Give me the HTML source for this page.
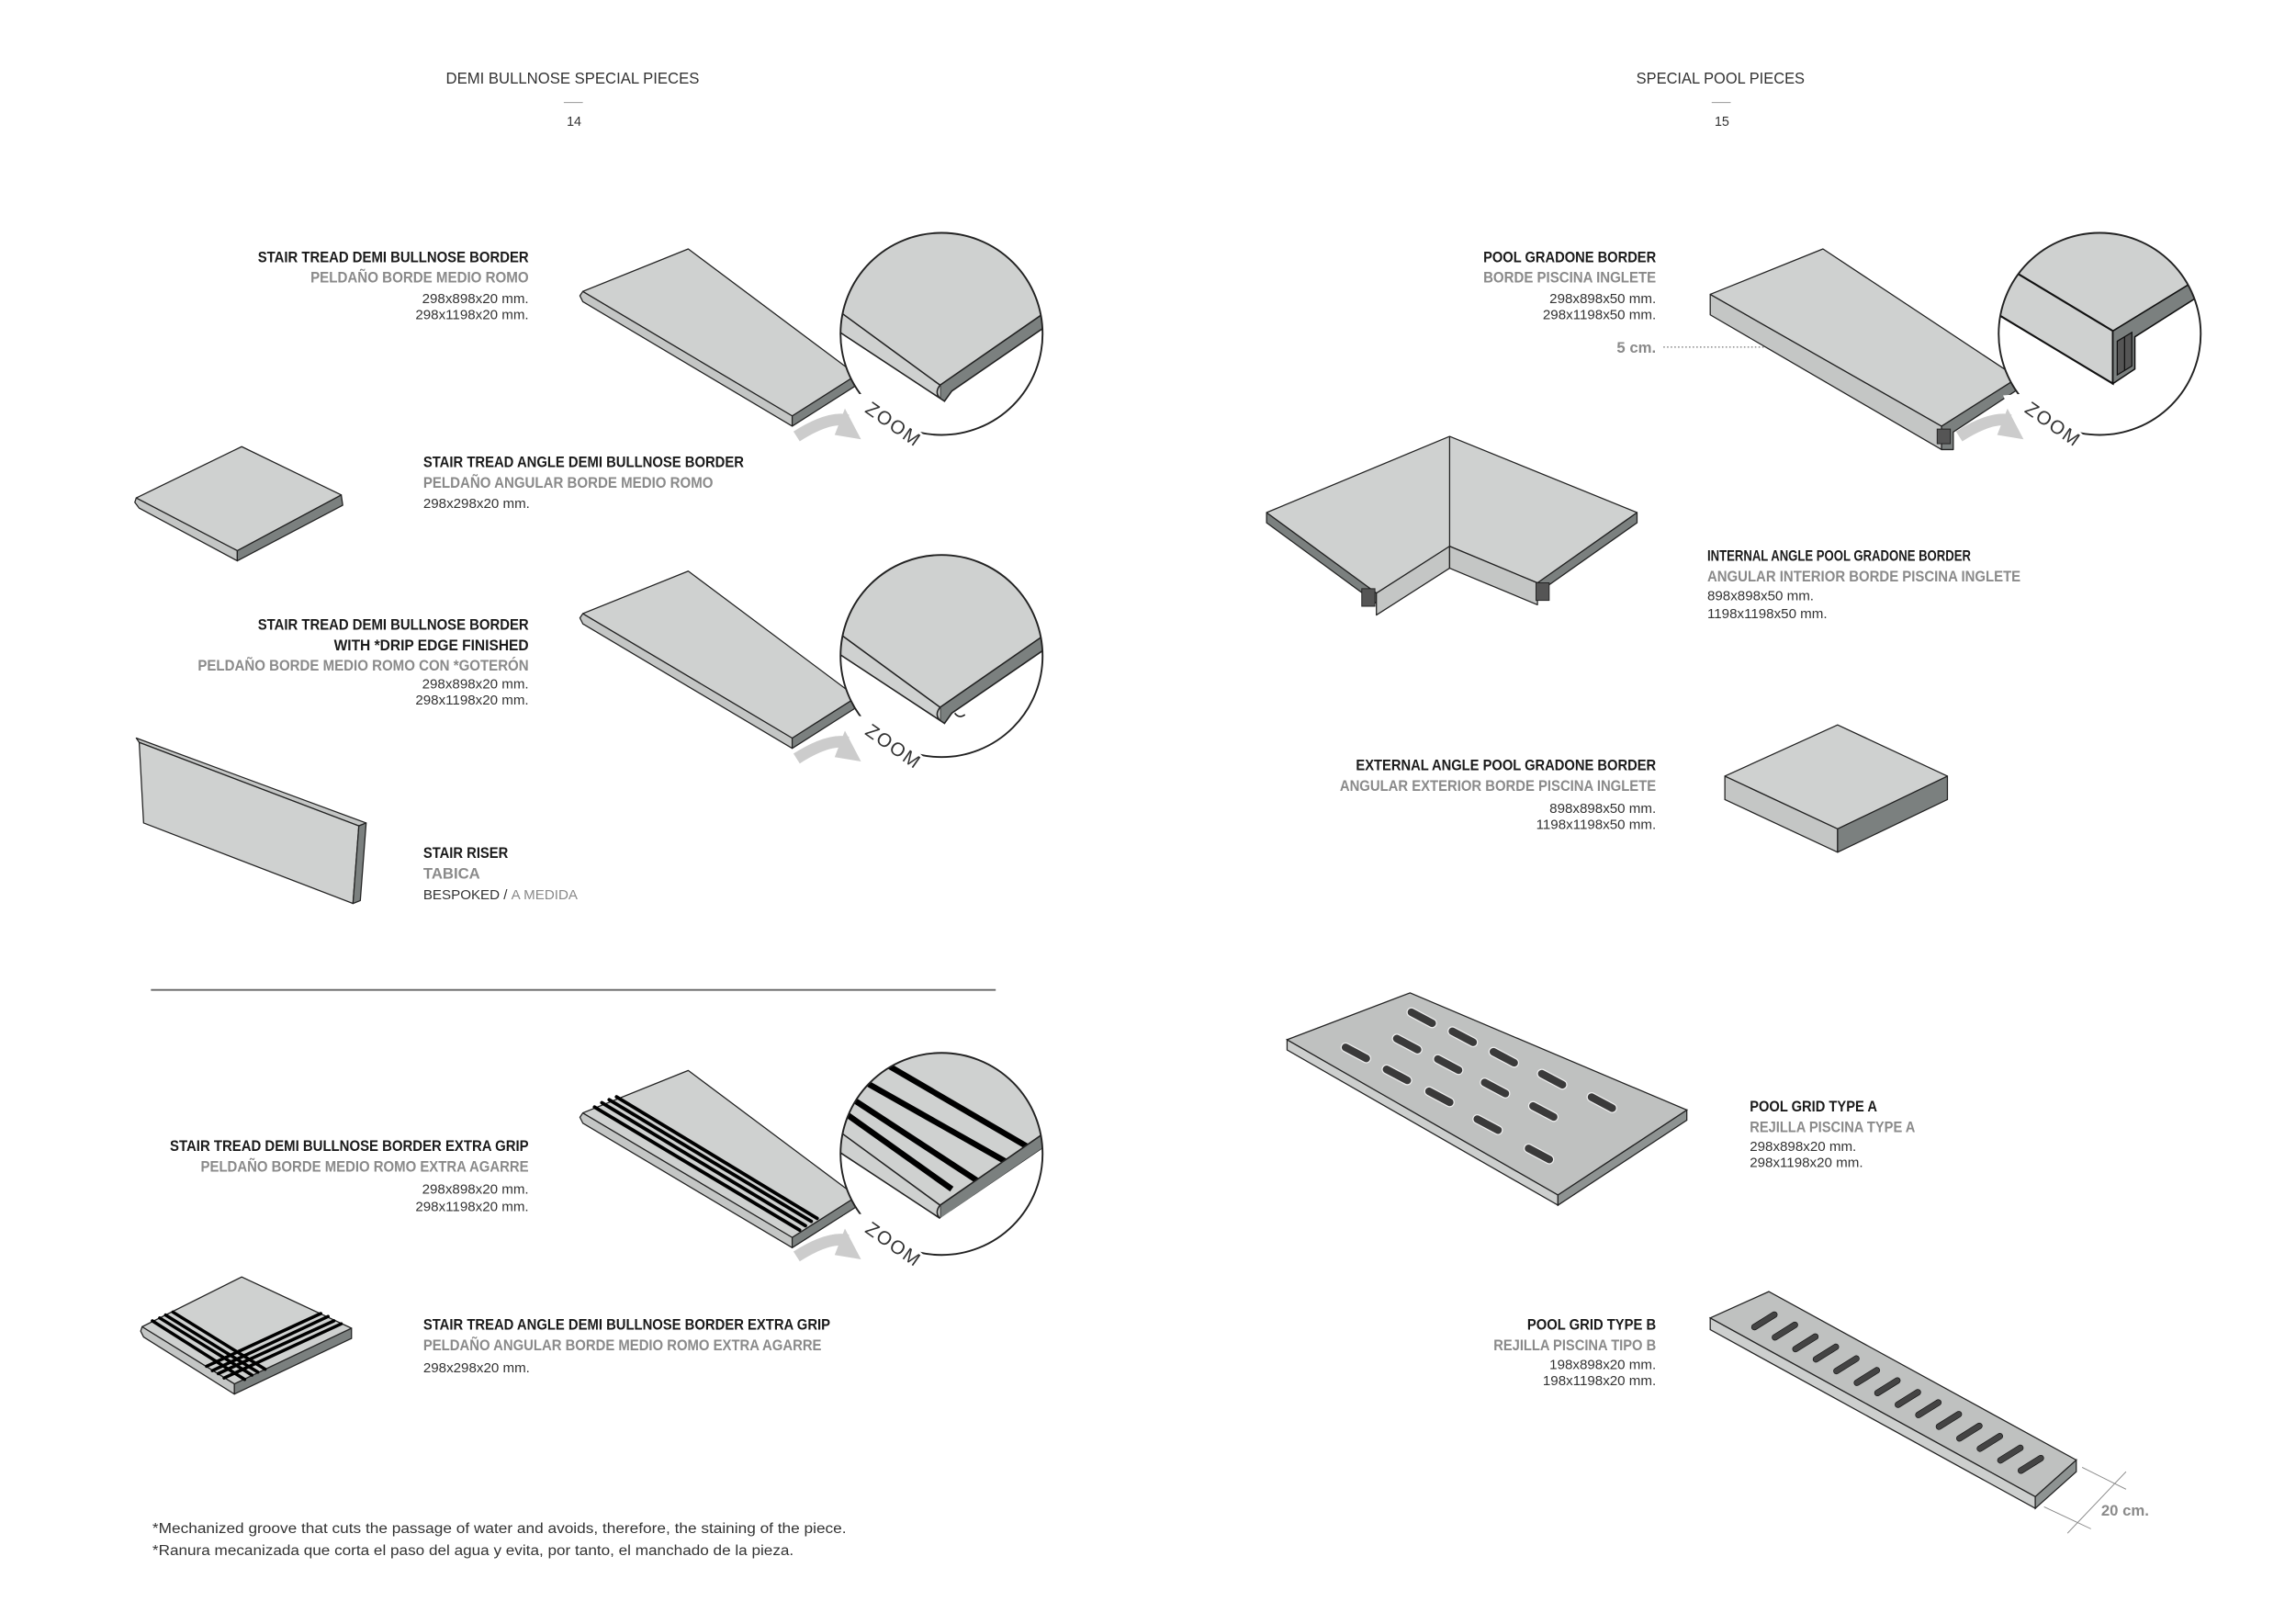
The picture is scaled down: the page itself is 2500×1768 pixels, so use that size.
<!DOCTYPE html>
<html><head><meta charset="utf-8"><style>
html,body{margin:0;padding:0;background:#fff}
svg{display:block}
text{font-family:"Liberation Sans Narrow","Liberation Sans",sans-serif}
.h{font-size:11px;fill:#333}
.b{font-size:10.5px;font-weight:bold;fill:#1a1a1a}
.g{font-size:10.5px;font-weight:bold;fill:#8a8a8a}
.d{font-size:9.5px;fill:#333}
.z{font-size:13px;fill:#333;letter-spacing:1px}
.f{font-size:10px;fill:#333}
.top{fill:#cfd1d0;stroke:#222;stroke-width:0.8;stroke-linejoin:round}
.lt{fill:#c4c6c5;stroke:#222;stroke-width:0.8;stroke-linejoin:round}
.dk{fill:#7b807f;stroke:#222;stroke-width:0.8;stroke-linejoin:round}
.gr{stroke:#000;stroke-width:2.4;stroke-linecap:round}
</style></head><body>
<svg width="2500" height="1768" viewBox="0 0 1568 1109" xmlns="http://www.w3.org/2000/svg">
<defs>
<clipPath id="c1"><circle cx="643" cy="228" r="69"/></clipPath>
<clipPath id="c2"><circle cx="643" cy="448" r="69"/></clipPath>
<clipPath id="c3"><circle cx="643" cy="788" r="69"/></clipPath>
<clipPath id="c4"><circle cx="1434" cy="228" r="69"/></clipPath>
</defs>

<text class="h" x="391" y="57" text-anchor="middle" textLength="173" lengthAdjust="spacingAndGlyphs">DEMI BULLNOSE SPECIAL PIECES</text>
<line x1="385" y1="70" x2="398" y2="70" stroke="#999" stroke-width="0.6"/>
<text class="h" x="392" y="86" text-anchor="middle" style="font-size:9px">14</text>
<text class="h" x="1175" y="57" text-anchor="middle" textLength="115" lengthAdjust="spacingAndGlyphs">SPECIAL POOL PIECES</text>
<line x1="1169" y1="70" x2="1182" y2="70" stroke="#999" stroke-width="0.6"/>
<text class="h" x="1176" y="86" text-anchor="middle" style="font-size:9px">15</text>

<text class="b" x="361" y="179" text-anchor="end" textLength="185" lengthAdjust="spacingAndGlyphs">STAIR TREAD DEMI BULLNOSE BORDER</text>
<text class="g" x="361" y="193" text-anchor="end" textLength="149" lengthAdjust="spacingAndGlyphs">PELDAÑO BORDE MEDIO ROMO</text>
<text class="d" x="361" y="207" text-anchor="end">298x898x20 mm.</text>
<text class="d" x="361" y="218" text-anchor="end">298x1198x20 mm.</text>

<text class="b" x="289" y="319" textLength="219" lengthAdjust="spacingAndGlyphs">STAIR TREAD ANGLE DEMI BULLNOSE BORDER</text>
<text class="g" x="289" y="333" textLength="198" lengthAdjust="spacingAndGlyphs">PELDAÑO ANGULAR BORDE MEDIO ROMO</text>
<text class="d" x="289" y="347">298x298x20 mm.</text>

<text class="b" x="361" y="430" text-anchor="end" textLength="185" lengthAdjust="spacingAndGlyphs">STAIR TREAD DEMI BULLNOSE BORDER</text>
<text class="b" x="361" y="444" text-anchor="end" textLength="133" lengthAdjust="spacingAndGlyphs">WITH *DRIP EDGE FINISHED</text>
<text class="g" x="361" y="458" text-anchor="end" textLength="226" lengthAdjust="spacingAndGlyphs">PELDAÑO BORDE MEDIO ROMO CON *GOTERÓN</text>
<text class="d" x="361" y="470" text-anchor="end">298x898x20 mm.</text>
<text class="d" x="361" y="481" text-anchor="end">298x1198x20 mm.</text>

<text class="b" x="289" y="586" textLength="58" lengthAdjust="spacingAndGlyphs">STAIR RISER</text>
<text class="g" x="289" y="600">TABICA</text>
<text class="d" x="289" y="614">BESPOKED / <tspan fill="#8a8a8a">A MEDIDA</tspan></text>

<line x1="103" y1="676" x2="680" y2="676" stroke="#666" stroke-width="1.2"/>

<text class="b" x="361" y="786" text-anchor="end" textLength="245" lengthAdjust="spacingAndGlyphs">STAIR TREAD DEMI BULLNOSE BORDER EXTRA GRIP</text>
<text class="g" x="361" y="800" text-anchor="end" textLength="224" lengthAdjust="spacingAndGlyphs">PELDAÑO BORDE MEDIO ROMO EXTRA AGARRE</text>
<text class="d" x="361" y="815" text-anchor="end">298x898x20 mm.</text>
<text class="d" x="361" y="827" text-anchor="end">298x1198x20 mm.</text>

<text class="b" x="289" y="908" textLength="278" lengthAdjust="spacingAndGlyphs">STAIR TREAD ANGLE DEMI BULLNOSE BORDER EXTRA GRIP</text>
<text class="g" x="289" y="922" textLength="272" lengthAdjust="spacingAndGlyphs">PELDAÑO ANGULAR BORDE MEDIO ROMO EXTRA AGARRE</text>
<text class="d" x="289" y="937">298x298x20 mm.</text>

<text class="f" x="104" y="1047" textLength="474" lengthAdjust="spacingAndGlyphs">*Mechanized groove that cuts the passage of water and avoids, therefore, the staining of the piece.</text>
<text class="f" x="104" y="1062" textLength="438" lengthAdjust="spacingAndGlyphs">*Ranura mecanizada que corta el paso del agua y evita, por tanto, el manchado de la pieza.</text>

<text class="b" x="1131" y="179" text-anchor="end" textLength="118" lengthAdjust="spacingAndGlyphs">POOL GRADONE BORDER</text>
<text class="g" x="1131" y="193" text-anchor="end" textLength="118" lengthAdjust="spacingAndGlyphs">BORDE PISCINA INGLETE</text>
<text class="d" x="1131" y="207" text-anchor="end">298x898x50 mm.</text>
<text class="d" x="1131" y="218" text-anchor="end">298x1198x50 mm.</text>
<text class="g" x="1131" y="241" text-anchor="end">5 cm.</text>
<line x1="1136" y1="237" x2="1210" y2="237" stroke="#777" stroke-width="0.8" stroke-dasharray="1,1.5"/>

<text class="b" x="1166" y="383" textLength="180" lengthAdjust="spacingAndGlyphs">INTERNAL ANGLE POOL GRADONE BORDER</text>
<text class="g" x="1166" y="397" textLength="214" lengthAdjust="spacingAndGlyphs">ANGULAR INTERIOR BORDE PISCINA INGLETE</text>
<text class="d" x="1166" y="410">898x898x50 mm.</text>
<text class="d" x="1166" y="422">1198x1198x50 mm.</text>

<text class="b" x="1131" y="526" text-anchor="end" textLength="205" lengthAdjust="spacingAndGlyphs">EXTERNAL ANGLE POOL GRADONE BORDER</text>
<text class="g" x="1131" y="540" text-anchor="end" textLength="216" lengthAdjust="spacingAndGlyphs">ANGULAR EXTERIOR BORDE PISCINA INGLETE</text>
<text class="d" x="1131" y="555" text-anchor="end">898x898x50 mm.</text>
<text class="d" x="1131" y="566" text-anchor="end">1198x1198x50 mm.</text>

<text class="b" x="1195" y="759" textLength="87" lengthAdjust="spacingAndGlyphs">POOL GRID TYPE A</text>
<text class="g" x="1195" y="773" textLength="113" lengthAdjust="spacingAndGlyphs">REJILLA PISCINA TYPE A</text>
<text class="d" x="1195" y="786">298x898x20 mm.</text>
<text class="d" x="1195" y="797">298x1198x20 mm.</text>

<text class="b" x="1131" y="908" text-anchor="end" textLength="88" lengthAdjust="spacingAndGlyphs">POOL GRID TYPE B</text>
<text class="g" x="1131" y="922" text-anchor="end" textLength="111" lengthAdjust="spacingAndGlyphs">REJILLA PISCINA TIPO B</text>
<text class="d" x="1131" y="935" text-anchor="end">198x898x20 mm.</text>
<text class="d" x="1131" y="946" text-anchor="end">198x1198x20 mm.</text>
<text class="g" x="1435" y="1035">20 cm.</text>

<polygon class="lt" points="398,199 541,284 541,291 398,206 396,202"/>
<polygon class="dk" points="541,284 585,256 585,263 541,291"/>
<polygon class="top" points="398,199 470,170 585,256 541,284"/>
<g transform="translate(0,220)">
<polygon class="lt" points="398,199 541,284 541,291 398,206 396,202"/>
<polygon class="dk" points="541,284 585,256 585,263 541,291"/>
<polygon class="top" points="398,199 470,170 585,256 541,284"/>
</g>
<g transform="translate(0,561)">
<polygon class="lt" points="398,199 541,284 541,291 398,206 396,202"/>
<polygon class="dk" points="541,284 585,256 585,263 541,291"/>
<polygon class="top" points="398,199 470,170 585,256 541,284"/>
<line class="gr" x1="406" y1="195" x2="546" y2="279"/>
<line class="gr" x1="411" y1="192" x2="550" y2="276"/>
<line class="gr" x1="416" y1="190" x2="554" y2="273"/>
<line class="gr" x1="421" y1="188" x2="558" y2="271"/>
</g>

<polygon class="lt" points="93,340 162,376 162,383 95,347 92,343"/>
<polygon class="dk" points="162,376 233,338 234,345 162,383"/>
<polygon class="top" points="93,340 165,305 233,338 162,376"/>

<polygon class="lt" points="97,906 160,945 160,952 98,913 96,909"/>
<polygon class="dk" points="160,945 240,907 240,914 160,952"/>
<polygon class="top" points="97,906 165,872 240,907 160,945"/>
<g class="gr" style="stroke-width:2.2">
<line x1="104" y1="902" x2="167" y2="942"/>
<line x1="109" y1="900" x2="172" y2="939"/>
<line x1="113" y1="898" x2="176" y2="937"/>
<line x1="118" y1="896" x2="181" y2="935"/>
<line x1="153" y1="941" x2="233" y2="904"/>
<line x1="149" y1="938" x2="228" y2="902"/>
<line x1="145" y1="936" x2="224" y2="899"/>
<line x1="141" y1="933" x2="219" y2="897"/>
</g>

<polygon class="lt" points="93,504 250,562 245,564 95,507"/>
<polygon class="top" points="95,507 245,564 241,617 98,562"/>
<polygon class="dk" points="245,564 250,562 246,615 241,617"/>

<g>
<circle cx="643" cy="228" r="69" fill="#fff"/>
<g clip-path="url(#c1)">
<polygon fill="#cfd1d0" points="560,150 730,150 730,202 642,263 560,204"/>
<polygon fill="#7b807f" stroke="#222" stroke-width="1" points="642,263 730,202 730,212 650,267 645,274 642,272"/>
<polygon fill="#cfd1d0" points="560,204 642,263 642,272 560,218"/>
<path d="M560,203 L642,263 M560,218 L642,272 M642,263 Q638,268 642,272" stroke="#222" stroke-width="1" fill="none"/>
</g>
<circle cx="643" cy="228" r="69" fill="none" stroke="#222" stroke-width="1.2"/>
<polygon points="576,270 600,268 634,300 592,305" fill="#fff"/>
<text class="z" transform="translate(590,281) rotate(35)">ZOOM</text>
<path d="M544,298 Q566,284 579,287" stroke="#ccc" stroke-width="8" fill="none"/>
<polygon points="577,279 588,300 570,297" fill="#ccc"/>
</g>
<g>
<circle cx="643" cy="448" r="69" fill="#fff"/>
<g clip-path="url(#c2)">
<polygon fill="#cfd1d0" points="560,370 730,370 730,422 642,483 560,424"/>
<polygon fill="#7b807f" stroke="#222" stroke-width="1" points="642,483 730,422 730,432 650,487 645,494 642,492"/>
<polygon fill="#cfd1d0" points="560,424 642,483 642,492 560,438"/>
<path d="M560,423 L642,483 M560,438 L642,492 M642,483 Q638,488 642,492" stroke="#222" stroke-width="1" fill="none"/>
<path d="M652,487 q3,4 7,1" stroke="#222" fill="#fff" stroke-width="1"/>
</g>
<circle cx="643" cy="448" r="69" fill="none" stroke="#222" stroke-width="1.2"/>
<polygon points="576,490 600,488 634,520 592,525" fill="#fff"/>
<text class="z" transform="translate(590,501) rotate(35)">ZOOM</text>
<path d="M544,518 Q566,504 579,507" stroke="#ccc" stroke-width="8" fill="none"/>
<polygon points="577,499 588,520 570,517" fill="#ccc"/>
</g>
<g>
<circle cx="643" cy="788" r="69" fill="#fff"/>
<g clip-path="url(#c3)">
<polygon fill="#cfd1d0" points="560,710 730,710 730,762 642,823 560,764"/>
<g stroke="#000" stroke-width="4">
<line x1="560" y1="748" x2="650" y2="812"/>
<line x1="560" y1="736" x2="670" y2="808"/>
<line x1="575" y1="730" x2="690" y2="795"/>
<line x1="590" y1="718" x2="705" y2="785"/>
</g>
<polygon fill="#7b807f" stroke="#222" stroke-width="1" points="642,823 730,762 730,772 650,827 645,834 642,832"/>
<polygon fill="#fff" points="560,790 642,832 730,772 730,870 560,870"/>
<polygon fill="#cfd1d0" points="560,764 642,823 642,832 560,778"/>
<path d="M560,763 L642,823 M560,778 L642,832 M642,823 Q638,828 642,832" stroke="#222" stroke-width="1" fill="none"/>
</g>
<circle cx="643" cy="788" r="69" fill="none" stroke="#222" stroke-width="1.2"/>
<polygon points="576,830 600,828 634,860 592,865" fill="#fff"/>
<text class="z" transform="translate(590,841) rotate(35)">ZOOM</text>
<path d="M544,858 Q566,844 579,847" stroke="#ccc" stroke-width="8" fill="none"/>
<polygon points="577,839 588,860 570,857" fill="#ccc"/>
</g>

<polygon class="lt" points="1168,201 1326,291 1326,307 1168,215"/>
<polygon class="dk" points="1326,291 1378,258 1378,266 1334,295 1334,307 1326,307"/>
<rect x="1323" y="293" width="9" height="10" fill="#555" stroke="#222" stroke-width="0.6"/>
<polygon class="top" points="1168,201 1245,170 1378,258 1326,291"/>
<circle cx="1434" cy="228" r="69" fill="#fff"/>
<g clip-path="url(#c4)">
<polygon fill="#cfd1d0" points="1360,150 1510,150 1510,185 1443,226 1360,176"/>
<polygon fill="#cfd1d0" stroke="#111" stroke-width="1.3" points="1360,176 1443,226 1443,262 1360,212"/>
<polygon fill="#7b807f" stroke="#111" stroke-width="1" points="1443,226 1510,185 1510,197 1458,230 1458,252 1443,262"/>
<polygon fill="#555" stroke="#111" stroke-width="0.8" points="1446,233 1456,227 1456,250 1446,256"/>
<line x1="1451" y1="230" x2="1451" y2="253" stroke="#111" stroke-width="0.8"/>
</g>
<circle cx="1434" cy="228" r="69" fill="none" stroke="#222" stroke-width="1.2"/>
<polygon points="1368,270 1392,268 1426,300 1384,305" fill="#fff"/>
<text class="z" transform="translate(1382,281) rotate(35)">ZOOM</text>
<path d="M1338,298 Q1360,284 1373,287" stroke="#ccc" stroke-width="8" fill="none"/>
<polygon points="1371,279 1382,300 1364,297" fill="#ccc"/>

<polygon class="dk" points="865,350 940,405 940,412 865,357"/>
<polygon class="dk" points="1118,350 1118,357 1050,405 1050,398"/>
<polygon class="lt" points="940,405 990,373 990,388 940,420"/>
<polygon class="lt" points="990,373 1050,398 1050,413 990,388"/>
<polygon class="top" points="990,298 1118,350 1050,398 990,373 940,405 865,350"/>
<line x1="990" y1="298" x2="990" y2="373" stroke="#222" stroke-width="0.8"/>
<rect x="930" y="402" width="9" height="12" fill="#555" stroke="#222" stroke-width="0.6"/>
<rect x="1049" y="398" width="9" height="12" fill="#555" stroke="#222" stroke-width="0.6"/>

<polygon class="lt" points="1178,530 1255,566 1255,582 1178,546"/>
<polygon class="dk" points="1255,566 1330,530 1330,546 1255,582"/>
<polygon class="top" points="1255,495 1330,530 1255,566 1178,530"/>

<polygon fill="#cdcfce" stroke="#222" stroke-width="0.8" points="879,710 1064,816 1064,823 879,717"/>
<polygon fill="#8e9392" stroke="#222" stroke-width="0.8" points="1064,816 1152,758 1152,765 1064,823"/>
<polygon fill="#bfc1c0" stroke="#222" stroke-width="0.8" points="879,710 963,678 1152,758 1064,816"/>
<g fill="#3a3a3a" stroke="#eee" stroke-width="0.8">
<rect x="-11" y="-3" width="22" height="6" rx="3" transform="translate(971,695) rotate(28)"/>
<rect x="-11" y="-3" width="22" height="6" rx="3" transform="translate(999,708) rotate(28)"/>
<rect x="-11" y="-3" width="22" height="6" rx="3" transform="translate(1027,722) rotate(28)"/>
<rect x="-11" y="-3" width="22" height="6" rx="3" transform="translate(1060,737) rotate(28)"/>
<rect x="-11" y="-3" width="22" height="6" rx="3" transform="translate(1094,753) rotate(28)"/>
<rect x="-11" y="-3" width="22" height="6" rx="3" transform="translate(961,713) rotate(28)"/>
<rect x="-11" y="-3" width="22" height="6" rx="3" transform="translate(989,727) rotate(28)"/>
<rect x="-11" y="-3" width="22" height="6" rx="3" transform="translate(1021,743) rotate(28)"/>
<rect x="-11" y="-3" width="22" height="6" rx="3" transform="translate(1054,759) rotate(28)"/>
<rect x="-11" y="-3" width="22" height="6" rx="3" transform="translate(926,719) rotate(28)"/>
<rect x="-11" y="-3" width="22" height="6" rx="3" transform="translate(954,734) rotate(28)"/>
<rect x="-11" y="-3" width="22" height="6" rx="3" transform="translate(983,749) rotate(28)"/>
<rect x="-11" y="-3" width="22" height="6" rx="3" transform="translate(1016,768) rotate(28)"/>
<rect x="-11" y="-3" width="22" height="6" rx="3" transform="translate(1051,788) rotate(28)"/>
</g>

<polygon fill="#cdcfce" stroke="#222" stroke-width="0.8" points="1168,900 1390,1022 1390,1030 1168,908"/>
<polygon fill="#8e9392" stroke="#222" stroke-width="0.8" points="1390,1022 1418,997 1418,1005 1390,1030"/>
<polygon fill="#bfc1c0" stroke="#222" stroke-width="0.8" points="1168,900 1208,882 1418,997 1390,1022"/>
<g fill="#444" stroke="#111" stroke-width="0.4">
<rect x="-10" y="-2" width="20" height="4" rx="2" transform="translate(1205,902) rotate(-32)"/>
<rect x="-10" y="-2" width="20" height="4" rx="2" transform="translate(1219,909) rotate(-32)"/>
<rect x="-10" y="-2" width="20" height="4" rx="2" transform="translate(1233,917) rotate(-32)"/>
<rect x="-10" y="-2" width="20" height="4" rx="2" transform="translate(1247,924) rotate(-32)"/>
<rect x="-10" y="-2" width="20" height="4" rx="2" transform="translate(1261,932) rotate(-32)"/>
<rect x="-10" y="-2" width="20" height="4" rx="2" transform="translate(1275,940) rotate(-32)"/>
<rect x="-10" y="-2" width="20" height="4" rx="2" transform="translate(1289,947) rotate(-32)"/>
<rect x="-10" y="-2" width="20" height="4" rx="2" transform="translate(1303,955) rotate(-32)"/>
<rect x="-10" y="-2" width="20" height="4" rx="2" transform="translate(1317,962) rotate(-32)"/>
<rect x="-10" y="-2" width="20" height="4" rx="2" transform="translate(1331,970) rotate(-32)"/>
<rect x="-10" y="-2" width="20" height="4" rx="2" transform="translate(1345,978) rotate(-32)"/>
<rect x="-10" y="-2" width="20" height="4" rx="2" transform="translate(1359,985) rotate(-32)"/>
<rect x="-10" y="-2" width="20" height="4" rx="2" transform="translate(1373,993) rotate(-32)"/>
<rect x="-10" y="-2" width="20" height="4" rx="2" transform="translate(1387,1000) rotate(-32)"/>
</g>
<g stroke="#888" stroke-width="0.6">
<line x1="1422" y1="1002" x2="1452" y2="1017"/>
<line x1="1396" y1="1029" x2="1428" y2="1044"/>
<line x1="1452" y1="1005" x2="1412" y2="1047"/>
</g>
</svg>
</body></html>
